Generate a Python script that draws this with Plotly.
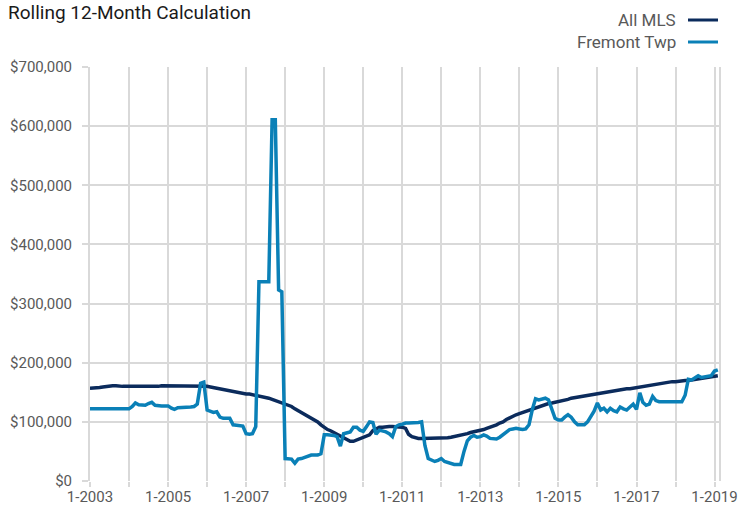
import pandas as pd
import plotly.graph_objects as go

# Monthly dates, Jan 2003 .. Feb 2019
dates = pd.date_range("2003-01-01", periods=194, freq="MS")

all_mls = [
    157, 157, 157, 158, 159, 160, 161, 161, 161, 160, 160, 160,   # 2003
    160, 160, 160, 159, 160, 160, 160, 160, 160, 160, 161, 161,   # 2004
    161, 161, 161, 161, 161, 161, 161, 161, 161, 161, 161, 161,   # 2005
    160, 159, 158, 157, 156, 155, 153, 152, 151, 150, 149, 148,   # 2006
    147, 147, 146, 145, 144, 143, 141, 140, 138, 136, 135, 133,   # 2007
    131, 129, 126, 122, 119, 116, 112, 109, 107, 104, 100, 95,    # 2008
    90, 87, 85, 82, 78, 75, 72, 69, 67, 67, 69, 71,               # 2009
    73, 75, 78, 85, 88, 91, 91, 92, 92, 92, 92, 91,               # 2010
    91, 89, 79, 75, 73, 72, 72, 72, 72, 72, 72, 72,               # 2011
    73, 73, 73, 74, 75, 76, 77, 78, 80, 82, 83, 84,               # 2012
    85, 87, 89, 91, 92, 95, 98, 100, 104, 107, 110, 112,          # 2013
    114, 116, 118, 120, 122, 124, 126, 127, 129, 131, 132, 133,   # 2014
    134, 135, 137, 138, 140, 141, 142, 143, 144, 145, 146, 147,   # 2015
    148, 148, 149, 150, 151, 152, 153, 154, 155, 156, 156, 157,   # 2016
    158, 159, 159, 160, 161, 162, 163, 164, 165, 166, 167, 168,   # 2017
    168, 169, 169, 170, 170, 171, 172, 173, 174, 175, 176, 176,   # 2018
    177, 178,                                                     # 2019
]

fremont_twp = [
    122, 122, 122, 122, 122, 122, 122, 122, 122, 122, 122, 122,   # 2003
    122, 126, 132, 129, 128, 128, 131, 133, 128, 127, 127, 127,   # 2004
    127, 123, 121, 124, 124, 124, 125, 125, 126, 130, 165, 167,   # 2005
    120, 118, 116, 117, 108, 106, 106, 106, 95, 94, 94, 93,       # 2006
    80, 79, 80, 92, 337, 337, 337, 337, 611, 611, 323, 320,       # 2007
    38, 38, 37, 30, 37, 38, 40, 43, 44, 44, 44, 46,               # 2008
    78, 78, 78, 77, 75, 59, 80, 82, 83, 91, 91, 86,               # 2009
    84, 92, 100, 99, 79, 86, 85, 83, 80, 75, 92, 95,              # 2010
    96, 98, 98, 98, 98, 99, 100, 60, 38, 36, 33, 35,              # 2011
    38, 33, 31, 29, 28, 28, 28, 50, 68, 74, 77, 74,               # 2012
    75, 78, 76, 72, 72, 71, 74, 78, 82, 87, 88, 89,               # 2013
    88, 87, 88, 95, 120, 139, 137, 139, 140, 137, 120, 106,       # 2014
    103, 103, 108, 112, 108, 100, 95, 95, 95, 100, 108, 118,      # 2015
    132, 120, 123, 117, 123, 119, 117, 125, 122, 120, 125, 130,   # 2016
    121, 149, 133, 128, 130, 143, 136, 134, 134, 134, 134, 134,   # 2017
    134, 134, 134, 145, 172, 171, 174, 178, 175, 176, 176, 178,   # 2018
    186, 188,                                                     # 2019
]

series_names = ["All MLS", "Fremont Twp"]
series_colors = ["#0b2b5c", "#0a80b7"]
y_tick_vals = [0, 100000, 200000, 300000, 400000, 500000, 600000, 700000]

GRID = "#d9d9d9"
FONT = "Roboto"

fig = go.Figure()
for name, vals, col in zip(series_names, [all_mls, fremont_twp], series_colors):
    fig.add_trace(go.Scatter(
        x=dates, y=[v * 1000 for v in vals], mode="lines", name=name,
        line=dict(color=col, width=3.5), showlegend=False,
    ))

fig.update_layout(
    width=738, height=515,
    margin=dict(l=90, r=19, t=67, b=34, autoexpand=False),
    paper_bgcolor="white", plot_bgcolor="white",
    font=dict(family=FONT, size=15, color="#595959"),
    title=dict(text="Rolling 12-Month Calculation", xref="container", yref="container",
               x=8 / 738, xanchor="left", y=1 - 6 / 515, yanchor="top",
               font=dict(family=FONT, size=19, color="#1a1a1a"), pad=dict(t=0, l=0)),
)

fig.update_xaxes(
    type="date", range=["2003-01-01", "2019-02-12"],
    tick0="2003-01-01", dtick="M24", tickformat="%-m-%Y",
    showgrid=True, gridcolor=GRID, gridwidth=2,
    ticks="outside", ticklen=5, tickcolor=GRID, tickwidth=2,
    minor=dict(dtick="M12", tick0="2003-01-01", showgrid=True, gridcolor=GRID, gridwidth=2,
               ticks="outside", ticklen=5, tickcolor=GRID, tickwidth=2),
    showline=False, zeroline=False, ticklabelstandoff=-3,
    tickfont=dict(family=FONT, size=15, color="#595959"),
)
fig.update_yaxes(
    range=[0, 700000], tickvals=y_tick_vals, tickformat="$,.0f",
    showgrid=True, gridcolor=GRID, gridwidth=2,
    ticks="outside", ticklen=6, tickcolor=GRID, tickwidth=2,
    showline=True, mirror=True, linecolor=GRID, linewidth=2,
    zeroline=False, ticklabelstandoff=7,
    tickfont=dict(family=FONT, size=15, color="#595959"),
)

# Legend drawn at top right: label text with a line swatch to its right
legend_y_px = [20, 42]
for name, col, ypx in zip(series_names, series_colors, legend_y_px):
    yp = (481 - ypx) / 414
    fig.add_annotation(text=name, xref="paper", yref="paper",
                       x=(678 - 90) / 629, y=yp, xanchor="right", yanchor="middle",
                       showarrow=False, font=dict(family=FONT, size=17, color="#595959"))
    fig.add_shape(type="line", xref="paper", yref="paper",
                  x0=(688 - 90) / 629, x1=(718 - 90) / 629, y0=yp, y1=yp,
                  line=dict(color=col, width=3))

fig.write_html("out.html", config={"displayModeBar": False},
               post_script="document.body.style.margin='0';")
